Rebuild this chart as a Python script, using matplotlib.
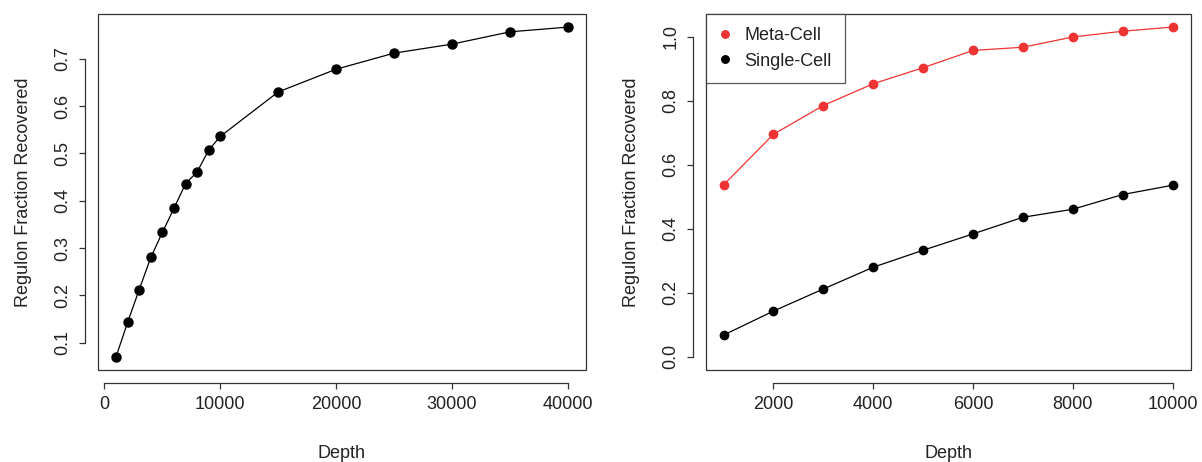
import matplotlib.pyplot as plt
from matplotlib.patches import Rectangle

plt.rcParams['font.family'] = ['Liberation Sans', 'DejaVu Sans']

# regulon recovery vs sequencing depth
depth_all = [1000, 2000, 3000, 4000, 5000, 6000, 7000, 8000, 9000, 10000,
             15000, 20000, 25000, 30000, 35000, 40000]
frac_all = [0.070, 0.143, 0.212, 0.280, 0.333, 0.384, 0.436, 0.461, 0.507, 0.536,
            0.630, 0.678, 0.712, 0.731, 0.757, 0.767]

depth = [1000, 2000, 3000, 4000, 5000, 6000, 7000, 8000, 9000, 10000]
meta_cell = [0.537, 0.695, 0.785, 0.853, 0.903, 0.957, 0.967, 0.999, 1.017, 1.030]
single_cell = [0.068, 0.143, 0.212, 0.280, 0.333, 0.384, 0.436, 0.461, 0.507, 0.536]

FS = 13
TXT = '#222222'


def r_style(ax, xticks, yticks, ylabels):
    # R-like base graphics: detached axis lines, full box, rotated y labels
    for s in ['top', 'right']:
        ax.spines[s].set_visible(False)
    for s in ['bottom', 'left']:
        ax.spines[s].set_position(('outward', 9.4))
        ax.spines[s].set_linewidth(0.9)
        ax.spines[s].set_color('#333333')
    ax.spines['bottom'].set_bounds(xticks[0], xticks[-1])
    ax.spines['left'].set_bounds(yticks[0], yticks[-1])
    ax.add_patch(Rectangle((0, 0), 1, 1, transform=ax.transAxes, fill=False,
                           lw=0.9, ec='#333333', clip_on=False))
    ax.set_xticks(xticks)
    ax.set_xticklabels([str(t) for t in xticks])
    ax.set_yticks(yticks)
    ax.set_yticklabels(ylabels, rotation=90, va='center')
    ax.tick_params(direction='out', length=4.5, width=0.9, color='#333333',
                   labelsize=FS, labelcolor=TXT, pad=5)
    ax.set_xlabel('Depth', fontsize=FS, color=TXT, labelpad=23)
    ax.set_ylabel('Regulon Fraction Recovered', fontsize=FS, color=TXT, labelpad=16)


fig = plt.figure(figsize=(12.02, 4.62), dpi=100)

ax1 = fig.add_axes([0.0815, 0.199, 0.406, 0.771])
ax1.plot(depth_all, frac_all, '-o', color='black', lw=0.9, ms=6.5)
ax1.set_xlim(-560, 41560)
ax1.set_ylim(0.042, 0.795)
r_style(ax1, [0, 10000, 20000, 30000, 40000],
        [0.1, 0.2, 0.3, 0.4, 0.5, 0.6, 0.7],
        ['0.1', '0.2', '0.3', '0.4', '0.5', '0.6', '0.7'])

ax2 = fig.add_axes([0.587, 0.199, 0.4035, 0.771])
ax2.plot(depth, meta_cell, '-o', color='#EE3333', lw=0.9, ms=6, label='Meta-Cell')
ax2.plot(depth, single_cell, '-o', color='black', lw=0.9, ms=6, label='Single-Cell')
ax2.set_xlim(640, 10360)
ax2.set_ylim(-0.0412, 1.0712)
r_style(ax2, [2000, 4000, 6000, 8000, 10000],
        [0.0, 0.2, 0.4, 0.6, 0.8, 1.0],
        ['0.0', '0.2', '0.4', '0.6', '0.8', '1.0'])

leg = ax2.legend(loc='upper left', bbox_to_anchor=(0, 1), borderaxespad=0,
                 fontsize=FS, frameon=True, fancybox=False, handlelength=0.6,
                 handletextpad=0.8, borderpad=0.75, labelspacing=0.45,
                 markerscale=0.9)
for h in leg.legend_handles:
    h.set_linestyle('None')
leg.get_frame().set_edgecolor('#333333')
leg.get_frame().set_linewidth(0.9)
for t in leg.get_texts():
    t.set_color(TXT)

fig.savefig('out.png', dpi=100)
